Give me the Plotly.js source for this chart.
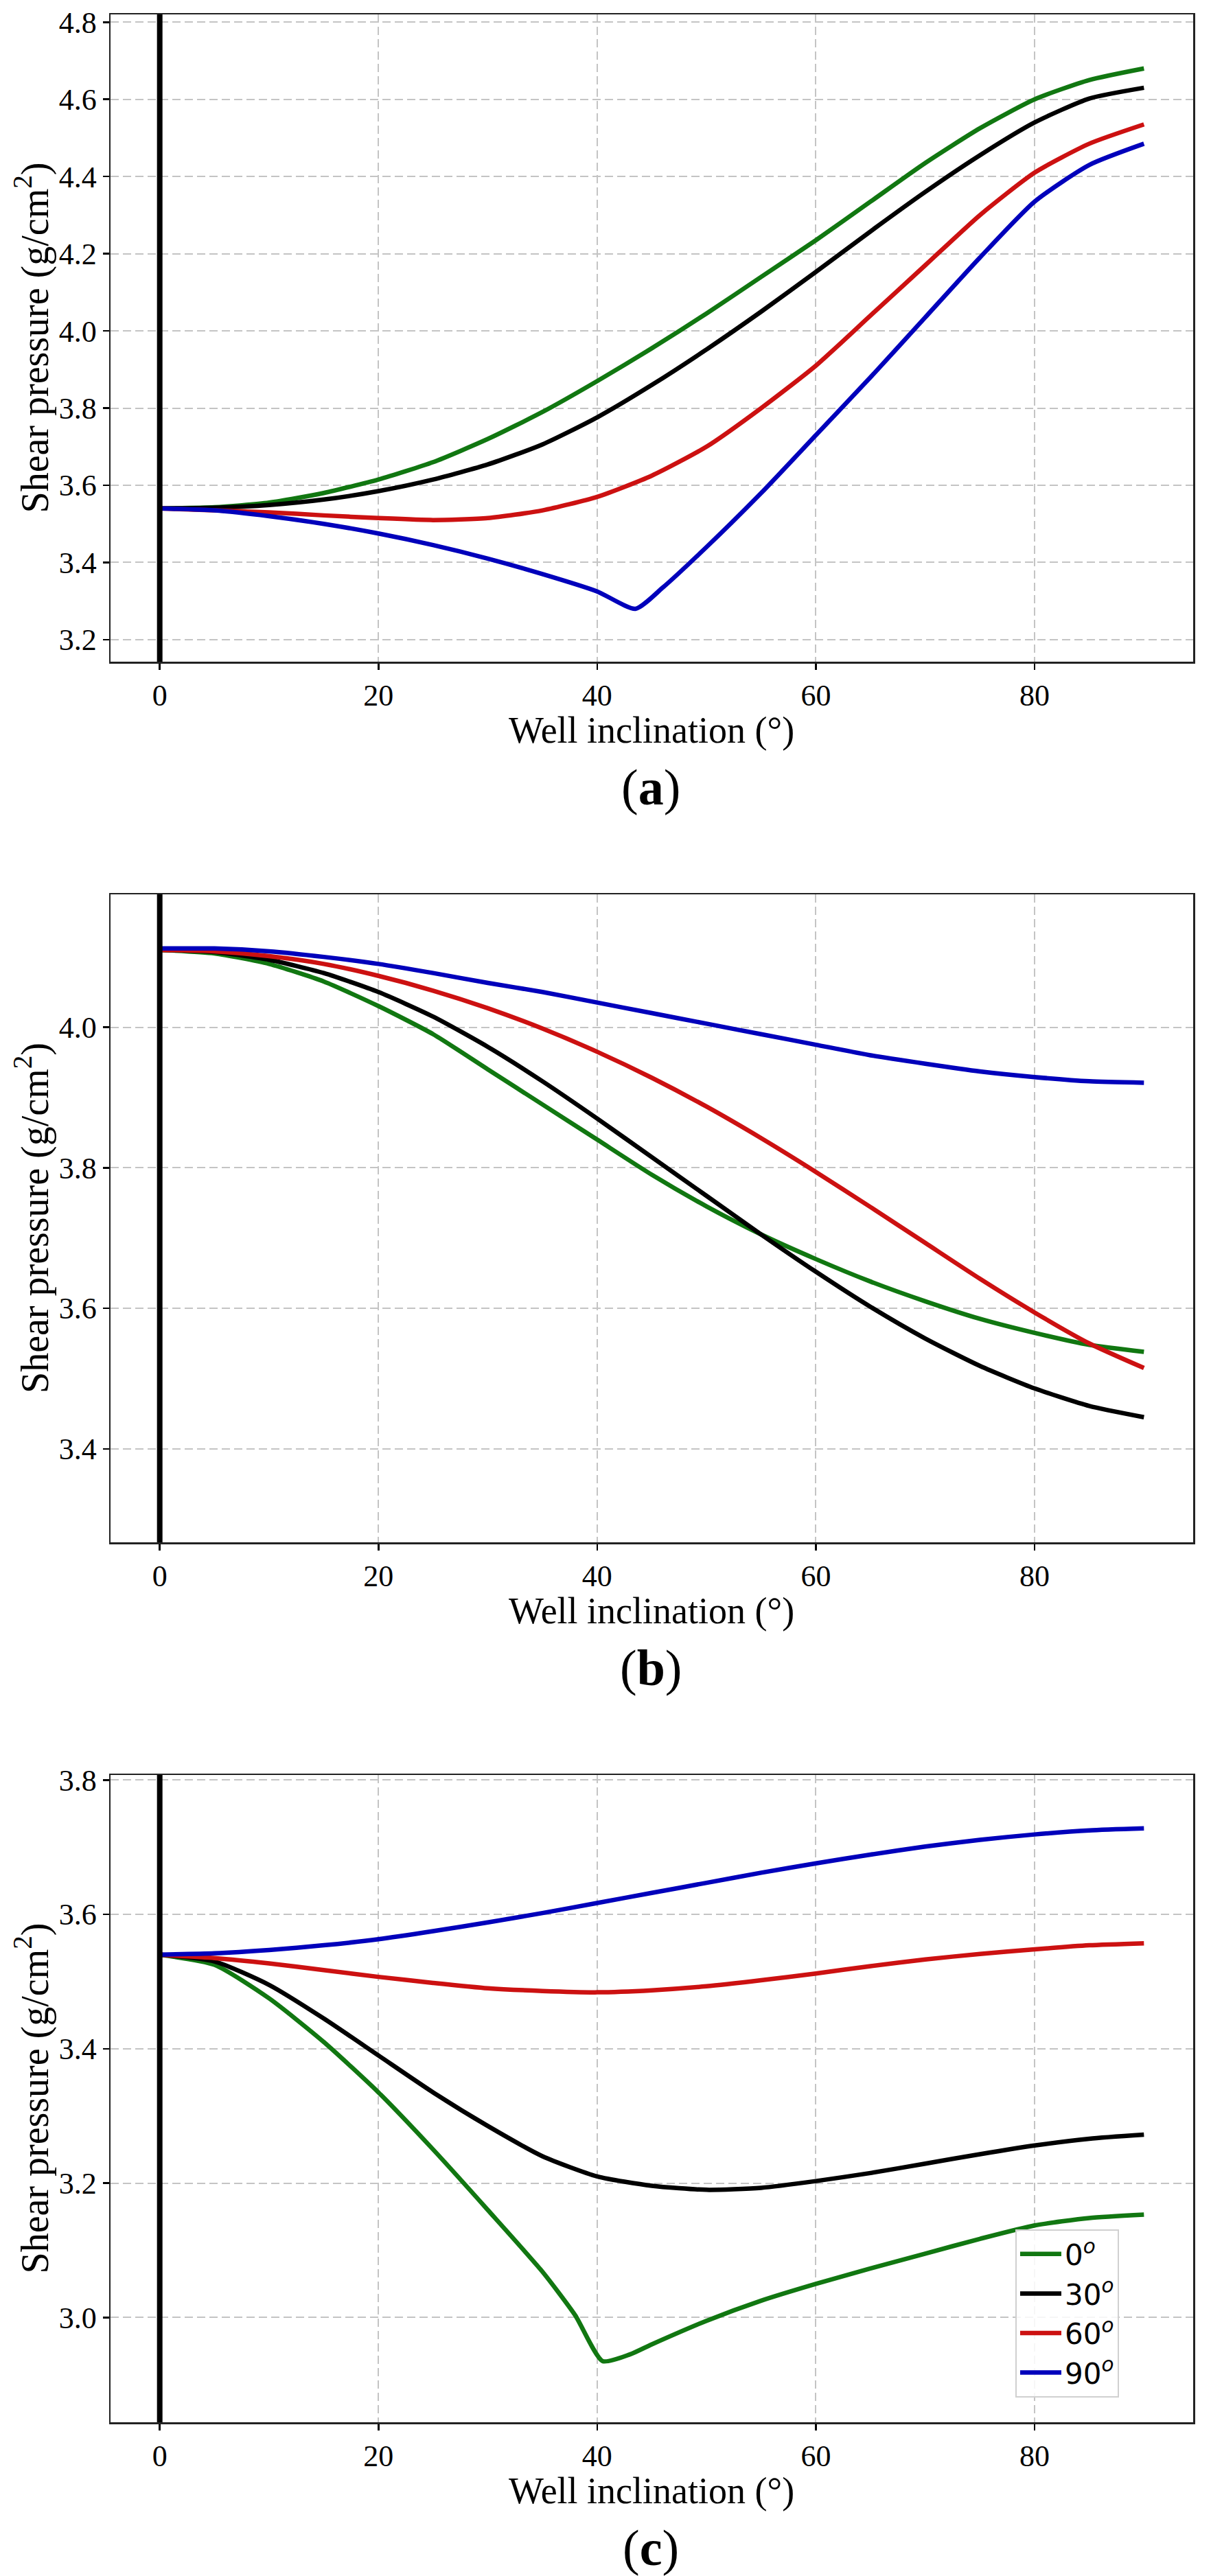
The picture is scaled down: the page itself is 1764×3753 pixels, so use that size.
<!DOCTYPE html>
<html>
<head>
<meta charset="utf-8">
<script src="https://cdn.plot.ly/plotly-3.1.2.min.js"></script>
<style>
  body { margin: 0; background: #fff; }
  #chart { width: 1764px; height: 3753px; }
</style>
</head>
<body>
<div id="chart"></div>
<script>
// well inclination (deg), shared by most series
const inclination = [0, 5, 10, 15, 20, 25, 30, 35, 40, 45, 50, 55, 60, 65, 70, 75, 80, 85, 90];
const seriesNames = ["0<sup><i>o</i></sup>", "30<sup><i>o</i></sup>", "60<sup><i>o</i></sup>", "90<sup><i>o</i></sup>"];
const seriesColors = ["#117711", "#000000", "#cc1111", "#0000bb"];
const xTicks = [0, 20, 40, 60, 80];
const panelLabels = ["a", "b", "c"];

// (a)
const aGreen = [3.54, 3.543, 3.555, 3.58, 3.615, 3.66, 3.72, 3.79, 3.87, 3.955, 4.045, 4.14, 4.235, 4.335, 4.435, 4.525, 4.60, 4.65, 4.68];
const aBlack = [3.54, 3.542, 3.549, 3.563, 3.585, 3.615, 3.654, 3.706, 3.776, 3.86, 3.952, 4.05, 4.153, 4.258, 4.36, 4.455, 4.54, 4.602, 4.63];
const aRed = [3.54, 3.535, 3.53, 3.522, 3.515, 3.51, 3.515, 3.535, 3.57, 3.625, 3.70, 3.80, 3.91, 4.04, 4.17, 4.30, 4.41, 4.485, 4.535];
const aBlueX = [0, 5, 10, 15, 20, 25, 30, 35, 40, 43.5, 46, 50, 55, 60, 65, 70, 75, 80, 85, 90];
const aBlue = [3.54, 3.535, 3.52, 3.50, 3.475, 3.445, 3.41, 3.37, 3.325, 3.28, 3.335, 3.44, 3.58, 3.73, 3.88, 4.035, 4.19, 4.335, 4.43, 4.485];

// (b)
const bGreen = [4.11, 4.105, 4.09, 4.065, 4.03, 3.99, 3.94, 3.89, 3.84, 3.79, 3.745, 3.705, 3.67, 3.638, 3.61, 3.585, 3.565, 3.548, 3.538];
const bBlack = [4.11, 4.107, 4.096, 4.077, 4.05, 4.015, 3.972, 3.923, 3.87, 3.815, 3.76, 3.705, 3.652, 3.602, 3.557, 3.518, 3.486, 3.461, 3.445];
const bRed = [4.11, 4.108, 4.101, 4.09, 4.073, 4.052, 4.027, 3.998, 3.965, 3.928, 3.887, 3.842, 3.794, 3.744, 3.693, 3.642, 3.594, 3.55, 3.515];
const bBlue = [4.112, 4.112, 4.108, 4.10, 4.09, 4.077, 4.063, 4.05, 4.035, 4.02, 4.005, 3.99, 3.975, 3.96, 3.948, 3.937, 3.929, 3.923, 3.921];

// (c)
const cGreenX = [0, 5, 10, 15, 20, 25, 30, 35, 38, 40.5, 43, 45, 50, 55, 60, 65, 70, 75, 80, 85, 90];
const cGreen = [3.54, 3.525, 3.475, 3.41, 3.335, 3.25, 3.16, 3.068, 3.003, 2.935, 2.945, 2.96, 2.995, 3.025, 3.05, 3.073, 3.095, 3.117, 3.137, 3.148, 3.153];
const cBlack = [3.54, 3.53, 3.495, 3.445, 3.39, 3.335, 3.285, 3.24, 3.21, 3.196, 3.19, 3.193, 3.203, 3.215, 3.229, 3.243, 3.256, 3.266, 3.272];
const cRed = [3.54, 3.535, 3.527, 3.517, 3.507, 3.498, 3.49, 3.486, 3.484, 3.487, 3.493, 3.502, 3.512, 3.523, 3.533, 3.541, 3.548, 3.554, 3.557];
const cBlue = [3.54, 3.542, 3.547, 3.554, 3.563, 3.575, 3.588, 3.602, 3.617, 3.632, 3.647, 3.662, 3.676, 3.689, 3.701, 3.711, 3.719, 3.725, 3.728];

const yRanges = [[3.143, 4.82], [3.267, 4.189], [2.844, 3.8075]];

const H = 3753;
const W = 1764;
// plot boxes in page pixels (top, bottom)
const boxes = [[21, 964], [1303, 2247], [2586, 3529]];
const xDomain = [161 / W, 1738 / W];

const panels = [
  [[inclination, aGreen], [inclination, aBlack], [inclination, aRed], [aBlueX, aBlue]],
  [[inclination, bGreen], [inclination, bBlack], [inclination, bRed], [inclination, bBlue]],
  [[cGreenX, cGreen], [inclination, cBlack], [inclination, cRed], [inclination, cBlue]],
];

const serif = "Liberation Serif, Times New Roman, serif";
const traces = [];
const shapes = [];
const annotations = [];
const layout = {
  width: W,
  height: H,
  margin: { l: 0, r: 0, t: 0, b: 0 },
  paper_bgcolor: "#fff",
  plot_bgcolor: "#fff",
  font: { family: serif, size: 44, color: "#000" },
  showlegend: true,
  legend: {
    x: 1479 / W,
    y: 1 - 3248 / H,
    xanchor: "left",
    yanchor: "top",
    bgcolor: "rgba(255,255,255,0.85)",
    bordercolor: "#d0d0d0",
    borderwidth: 2,
    font: { family: "DejaVu Sans", size: 42, color: "#000" },
    itemwidth: 60,
    tracegroupgap: 0,
  },
};

panels.forEach((panel, p) => {
  const xa = p === 0 ? "x" : "x" + (p + 1);
  const ya = p === 0 ? "y" : "y" + (p + 1);
  const [top, bottom] = boxes[p];

  panel.forEach(([xs, ys], s) => {
    traces.push({
      x: xs,
      y: ys,
      xaxis: xa,
      yaxis: ya,
      type: "scatter",
      mode: "lines",
      name: seriesNames[s],
      showlegend: p === 2,
      line: { color: seriesColors[s], width: 6.5, shape: "spline", smoothing: 0.6 },
    });
  });

  const axisCommon = {
    showline: true,
    mirror: true,
    linecolor: "#222",
    linewidth: 2.5,
    ticks: "outside",
    ticklen: 9,
    tickwidth: 2.5,
    tickcolor: "#000",
    showgrid: true,
    gridcolor: "#c4c4c4",
    gridwidth: 2,
    griddash: "12px,6px",
    zeroline: false,
    tickfont: { family: serif, size: 44, color: "#000" },
  };

  layout["xaxis" + (p === 0 ? "" : p + 1)] = {
    ...axisCommon,
    domain: xDomain,
    anchor: ya,
    range: [-4.5, 94.5],
    tickvals: xTicks,
    ticktext: xTicks.map(String),
  };
  layout["yaxis" + (p === 0 ? "" : p + 1)] = {
    ...axisCommon,
    domain: [1 - bottom / H, 1 - top / H],
    anchor: xa,
    range: yRanges[p],
    dtick: 0.2,
    tick0: 0,
    tickformat: ".1f",
  };

  // vertical reference line at zero inclination
  shapes.push({
    type: "line",
    xref: xa,
    yref: ya + " domain",
    x0: 0,
    x1: 0,
    y0: 0,
    y1: 1,
    line: { color: "#000", width: 8 },
    layer: "above",
  });

  annotations.push({
    text: "Well inclination (°)",
    xref: "paper",
    yref: "paper",
    x: (xDomain[0] + xDomain[1]) / 2,
    y: 1 - (bottom + 100) / H,
    xanchor: "center",
    yanchor: "middle",
    showarrow: false,
    font: { family: serif, size: 54, color: "#000" },
  });
  annotations.push({
    text: "Shear pressure (g/cm<sup>2</sup>)",
    xref: "paper",
    yref: "paper",
    x: 47 / W,
    y: 1 - (top + bottom) / 2 / H,
    xanchor: "center",
    yanchor: "middle",
    textangle: -90,
    showarrow: false,
    font: { family: serif, size: 56, color: "#000" },
  });
  annotations.push({
    text: "(<b>" + panelLabels[p] + "</b>)",
    xref: "paper",
    yref: "paper",
    x: 948 / W,
    y: 1 - (bottom + 183) / H,
    xanchor: "center",
    yanchor: "middle",
    showarrow: false,
    font: { family: serif, size: 74, color: "#000" },
  });
});

layout.shapes = shapes;
layout.annotations = annotations;

Plotly.newPlot("chart", traces, layout, { staticPlot: true });
</script>
</body>
</html>
